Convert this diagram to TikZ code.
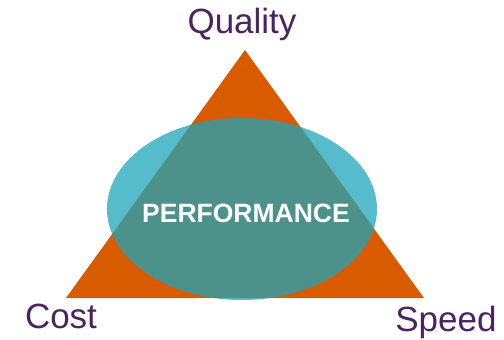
\documentclass[tikz,border=0pt]{standalone}
\usepackage{fontspec}
\setmainfont{Liberation Sans}
\definecolor{triorange}{RGB}{217,91,0}
\definecolor{perfcyan}{RGB}{30,165,185}
\definecolor{labelpurple}{RGB}{75,35,95}
\begin{document}
\begin{tikzpicture}[x=1pt,y=-1pt,
  corner/.style={font=\fontsize{35}{38}\selectfont, text=labelpurple, anchor=base, inner sep=0pt},
  centre/.style={font=\bfseries\fontsize{26.5}{28}\selectfont, text=white, anchor=base, inner sep=0pt}]
  \useasboundingbox (0,0) rectangle (504,340);
  % triangle of the three goals
  \coordinate (top) at (245,50);
  \coordinate (left) at (66,298);
  \coordinate (right) at (424,298);
  \fill[triorange] (top) -- (right) -- (left) -- cycle;
  % overlapping performance ellipse
  \fill[perfcyan, fill opacity=0.75] (242,209) ellipse [x radius=135, y radius=91];
  \node[centre] (perf) at (246,222) {PERFORMANCE};
  % corner labels
  \node[corner] (quality) at (242,33) {Quality};
  \node[corner] (cost) at (61,328) {Cost};
  \node[corner] (speed) at (446,331) {Speed};
\end{tikzpicture}
\end{document}
